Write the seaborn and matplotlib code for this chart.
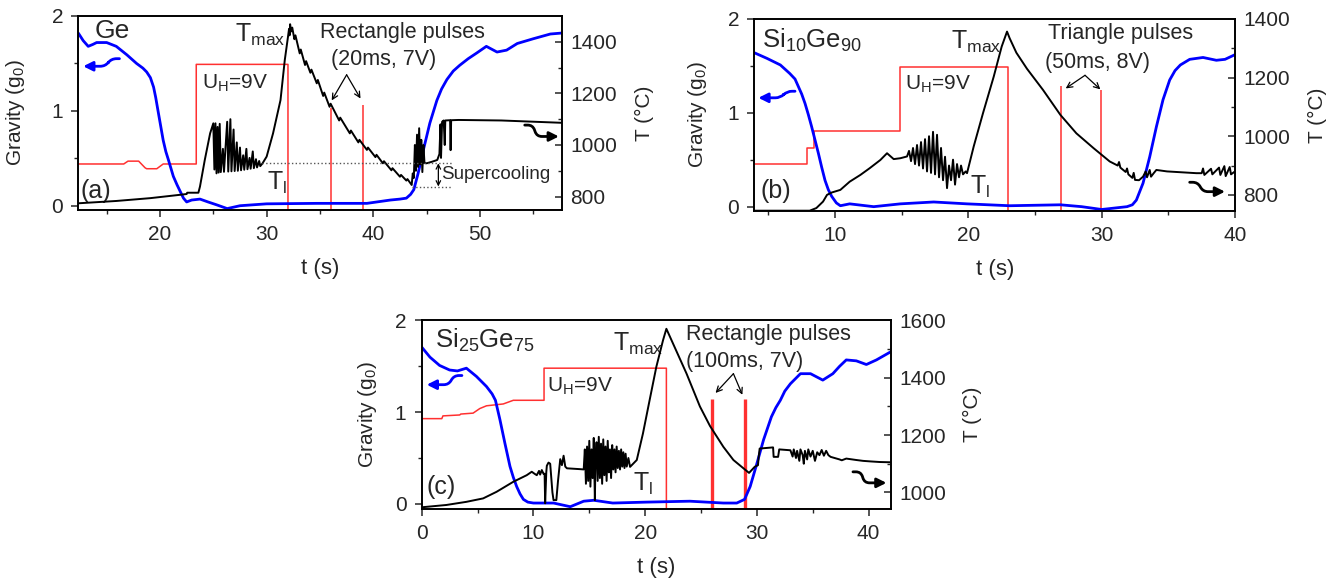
import matplotlib
matplotlib.use("Agg")
import matplotlib.pyplot as plt
import seaborn as sns

sns.set_theme(style="ticks")
plt.rcParams["font.family"] = ["Liberation Sans", "DejaVu Sans"]
plt.rcParams["mathtext.fontset"] = "custom"
plt.rcParams["mathtext.rm"] = "Liberation Sans"
plt.rcParams["mathtext.default"] = "regular"

BLUE = "#0000ff"
RED = "#ff3030"

# ---------------- (a) Ge ----------------
ge_grav_t = [12.34, 12.8, 13.27, 13.7, 14.06, 15.0, 15.9, 16.9, 17.8, 18.4, 18.75, 19.1, 19.4,
             19.6, 19.8, 20.05, 20.3, 20.55, 20.8, 21.25, 21.6, 21.9, 22.2, 22.5, 22.97, 23.75,
             24.5, 25.3, 26.3, 27.5, 30.0, 34.7, 39.4, 41.6, 42.5, 43.1, 43.5, 43.8, 44.2,
             44.7, 45.3, 45.96, 46.4, 46.9, 47.5, 48.1, 48.9, 49.7, 50.6, 51.6, 52.5, 53.5,
             55.0, 56.6, 57.66]
ge_grav = [1.82, 1.74, 1.68, 1.70, 1.72, 1.72, 1.68, 1.59, 1.50, 1.45, 1.41, 1.35, 1.25,
           1.14, 1.01, 0.85, 0.69, 0.57, 0.48, 0.31, 0.22, 0.15, 0.08, 0.04, 0.06, 0.07,
           0.04, 0.01, -0.03, 0.00, 0.02, 0.025, 0.025, 0.06, 0.07, 0.08, 0.12, 0.17, 0.34,
           0.59, 0.87, 1.11, 1.23, 1.33, 1.42, 1.48, 1.55, 1.61, 1.68, 1.62, 1.64, 1.71,
           1.76, 1.81, 1.82]

ge_temp_t = [12.34, 15.9, 19.1, 21.9, 22.5, 22.55, 23.6, 23.75, 24.2, 24.7, 25.0,
             25.1, 25.2, 25.3, 25.4, 25.5, 25.6, 25.7, 25.9, 26.0, 26.3, 26.4, 26.6, 26.7,
             26.9, 27.0, 27.2, 27.3, 27.5, 27.6, 27.8, 27.9, 28.1, 28.2, 28.4, 28.5, 28.7,
             28.8, 29.0, 29.1, 29.3, 29.4, 29.6,
             30.0, 30.6, 31.3, 31.7, 32.0, 32.1, 32.15, 32.2, 32.3, 32.4,
             32.6, 32.7, 33.1, 33.2, 33.6, 33.7, 34.1, 34.2, 34.7, 34.8, 35.3, 35.4, 35.9,
             36.0, 36.8, 36.9, 37.8, 37.9, 38.6, 38.7, 39.4, 39.5, 40.2, 40.3, 40.9, 41.0,
             41.7, 41.8, 42.5, 42.6, 43.1, 43.2, 43.6,
             43.7, 43.8, 43.9, 44.0, 44.1, 44.2, 44.3, 44.4, 44.5, 44.6, 44.7, 44.8, 45.0,
             45.5, 46.0, 46.2, 46.3, 46.35, 46.45, 46.6, 46.7, 46.75, 47.2, 47.25, 47.3,
             48.0, 52.0, 57.66]
ge_temp = [774, 783, 794, 807, 810, 815, 815, 839, 942, 1045, 1084,
           905, 1084, 890, 1070, 893, 1082, 895, 985, 896, 1090, 897, 1100, 898,
           1060, 899, 1010, 900, 990, 902, 960, 904, 985, 906, 950, 908, 975,
           910, 945, 913, 938, 918, 928,
           955, 1045, 1174, 1329, 1419, 1450, 1425, 1468, 1440, 1455,
           1410, 1425, 1355, 1370, 1310, 1325, 1280, 1292, 1239, 1252, 1190, 1203, 1148,
           1160, 1095, 1106, 1045, 1056, 1010, 1020, 981, 990, 953, 962, 929, 937,
           902, 910, 877, 884, 862, 868, 845,
           890, 872, 1000, 900, 1040, 915, 1065, 925, 1020, 895, 1000, 930, 929,
           935, 942, 965, 1080, 950, 1090, 1095, 1000, 1095, 1096, 980, 1096,
           1097, 1095, 1086]

ge_volt_t = [12.34, 16.6, 17.0, 18.0, 18.6, 18.75, 19.7, 20.3, 23.4, 23.4, 32.0, 32.0, 57.66]
ge_volt = [0.44, 0.44, 0.47, 0.47, 0.40, 0.39, 0.39, 0.44, 0.44, 1.49, 1.49, -0.045, -0.045]
ge_pulse_t = [36.0, 39.07]
ge_pulse_top = [1.03, 1.06]
ge_supercool_start = [29.6, 43.6]
ge_supercool_T = [929, 839]

# ---------------- (b) Si10Ge90 ----------------
si10_grav_t = [3.95, 4.9, 5.9, 6.6, 7.0, 7.25, 7.5, 7.75, 8.0, 8.25, 8.5, 8.75, 9.0, 9.25, 9.5,
               9.75, 10.1, 10.4, 11.1, 12.9, 14.9, 17.4, 19.9, 23.1, 26.9, 28.5, 30.0, 31.9,
               32.3, 32.6, 33.1, 33.6, 34.1, 34.6, 35.1, 35.5, 35.9, 36.6, 37.6, 38.6, 39.25,
               40.0]
si10_grav = [1.64, 1.58, 1.51, 1.42, 1.36, 1.28, 1.20, 1.10, 0.98, 0.85, 0.71, 0.57, 0.42,
             0.28, 0.18, 0.11, 0.04, 0.01, 0.03, 0.0, 0.03, 0.05, 0.03, 0.01, 0.02, 0.0,
             -0.03, 0.0, 0.02, 0.07, 0.25, 0.53, 0.85, 1.14, 1.35, 1.45, 1.51, 1.57, 1.59,
             1.56, 1.57, 1.62]

si10_temp_t = [3.95, 8.1, 8.6, 9.1, 9.4, 9.75, 10.4, 11.1, 11.9, 12.6, 13.4, 13.9, 14.4, 14.9,
               15.4, 15.55, 15.7, 15.85, 16.0, 16.15, 16.3, 16.45, 16.6, 16.75, 16.9, 17.05,
               17.2, 17.35, 17.5, 17.65, 17.8, 17.95, 18.1, 18.25, 18.4, 18.55, 18.7, 18.85,
               19.0, 19.15, 19.3, 19.45, 19.6, 19.8, 19.9,
               20.4, 21.1, 21.9, 22.5, 22.9, 23.1, 23.6, 24.4, 25.6, 26.9, 28.1, 29.4, 30.6,
               31.2, 31.3, 31.4, 31.8, 31.9, 32.0, 32.3, 32.4, 32.5, 32.8, 33.1, 33.3, 33.4,
               33.6, 33.7, 33.9, 34.1, 34.9, 37.1, 37.5, 37.6, 37.7, 38.2, 38.3, 38.8, 38.9,
               39.2, 39.3, 39.6, 39.7, 40.0]
si10_temp = [746, 746, 755, 777, 800, 808, 817, 845, 868, 891, 919, 942, 922, 925,
             931, 950, 915, 960, 905, 970, 900, 980, 890, 990, 880, 1000,
             875, 1015, 870, 1005, 860, 960, 850, 930, 823, 900, 850, 920,
             835, 905, 860, 900, 870, 880, 874,
             965, 1079, 1203, 1306, 1357, 1334, 1285, 1230, 1158, 1073, 1010, 959, 914,
             900, 912, 893, 878, 890, 870, 858, 875, 851, 850, 862, 880, 860,
             885, 862, 874, 885, 880, 874, 874, 890, 868, 889, 870, 893, 868,
             898, 864, 895, 870, 880]

si10_volt_t = [3.95, 7.9, 7.9, 8.45, 8.45, 14.9, 14.9, 23.0, 23.0, 40.0]
si10_volt = [0.46, 0.46, 0.63, 0.63, 0.81, 0.81, 1.49, 1.49, -0.046, -0.046]
si10_pulse_t = [26.95, 29.95]
si10_pulse_top = [1.29, 1.24]

# ---------------- (c) Si25Ge75 ----------------
si25_grav_t = [0, 0.74, 1.6, 2.5, 3.2, 4.0, 4.9, 5.8, 6.3, 6.6, 7.0, 7.45, 7.9, 8.2, 8.5, 8.8,
               9.1, 9.5, 10.0, 11.8, 13.3, 14.5, 15.4, 17.1, 20.1, 24.0, 27.0, 28.2, 28.9,
               29.4, 30.0, 30.6, 31.3, 31.7, 32.1, 32.5, 33.0, 33.9, 34.8, 35.9, 36.8, 37.4,
               38.0, 38.9, 39.8, 40.7, 42.0]
si25_grav = [1.71, 1.60, 1.51, 1.46, 1.45, 1.48, 1.39, 1.28, 1.20, 1.13, 0.92, 0.66, 0.41,
             0.29, 0.19, 0.11, 0.05, 0.02, 0.01, 0.01, -0.03, 0.03, 0.04, 0.01, 0.02, 0.03,
             0.01, 0.01, 0.05, 0.19, 0.44, 0.70, 0.95, 1.05, 1.13, 1.23, 1.31, 1.42, 1.42,
             1.35, 1.42, 1.50, 1.57, 1.56, 1.52, 1.57, 1.66]

si25_temp_t = [0, 2.2, 4.0, 5.5, 6.7, 8.2, 9.4, 9.85, 10.1, 10.3, 10.5, 10.6, 10.75, 10.9,
               11.0, 11.05, 11.15, 11.2, 11.35, 11.5, 11.7, 11.8, 12.05, 12.2, 12.4, 12.55,
               12.7, 12.85, 13.0, 14.2, 14.5,
               14.6, 14.7, 14.8, 14.9, 15.0, 15.1, 15.2, 15.3, 15.4, 15.5, 15.55, 15.65, 15.75,
               15.85, 15.95, 16.05, 16.15, 16.25, 16.35, 16.45, 16.55, 16.65, 16.75, 16.85,
               16.95, 17.05, 17.15, 17.25, 17.35, 17.45, 17.55, 17.65, 17.75, 17.85, 17.95,
               18.05, 18.15, 18.25, 18.35, 18.5, 18.65,
               19.25, 19.8, 20.4, 21.0, 21.6, 21.9, 22.5, 23.7, 24.9, 25.8, 27.0, 27.9, 28.8,
               29.3, 29.8, 30.1, 30.15, 30.25, 31.45, 31.5, 31.9, 32.0, 33.0,
               33.2, 33.3, 33.5, 33.6, 33.8, 33.9, 34.1, 34.2, 34.3, 34.5, 34.6, 34.8, 35.0,
               35.2, 35.4, 35.6, 35.8, 36.0, 36.2, 36.4, 36.6, 37.4, 37.6, 38.0, 38.9, 39.5,
               40.2, 41.0, 42.0]
si25_temp = [948, 956, 967, 979, 1002, 1037, 1060, 1072, 1065, 1060, 1075, 1062, 1078, 1065,
             1065, 962, 1070, 1093, 1104, 1100, 1000, 973, 973, 1040, 1116, 1095,
             1128, 1090, 1084, 1081, 1080,
             1150, 1030, 1160, 1040, 1180, 1020, 1150, 1050, 1190, 973, 1100, 1175, 1040,
             1194, 1050, 1170, 1030, 1185, 1060, 1160, 1040, 1180, 1070, 1150,
             1050, 1165, 1080, 1150, 1070, 1160, 1085, 1145, 1080, 1150, 1090,
             1140, 1085, 1135, 1090, 1120, 1089,
             1113, 1205, 1322, 1438, 1531, 1571, 1519, 1415, 1300, 1232, 1159, 1113, 1084,
             1068, 1089, 1095, 1120, 1153, 1157, 1124, 1124, 1150, 1147,
             1125, 1150, 1120, 1145, 1110, 1150, 1130, 1100, 1145, 1115, 1150, 1125, 1145,
             1110, 1140, 1130, 1148, 1128, 1145, 1130, 1124, 1115, 1112, 1118, 1113, 1110,
             1108, 1106, 1105]

si25_volt_t = [0, 1.8, 1.9, 3.4, 3.5, 4.6, 5.2, 5.8, 7.3, 8.2, 10.95, 10.95, 21.9, 21.9, 42.0]
si25_volt = [0.93, 0.93, 0.96, 0.97, 0.98, 0.99, 1.04, 1.07, 1.09, 1.13, 1.13, 1.48, 1.48,
             -0.055, -0.055]
si25_pulse_t = [25.95, 28.95]
si25_pulse_top = [1.14, 1.14]

fig = plt.figure(figsize=(13.43, 5.79), dpi=100)


def draw_panel(rect, xlim, glim, tlim, grav_t, grav, temp_t, temp, volt_t, volt,
               pulse_t, pulse_top, pulse_lw, xmajor, xminor, tmajor, tminor, lab_x, lab_x2, lab_y):
    ax = fig.add_axes(rect)
    ax2 = ax.twinx()
    sns.lineplot(x=volt_t, y=volt, ax=ax, color=RED, lw=1.1, sort=False, estimator=None)
    ax.vlines(pulse_t, glim[0], pulse_top, color=RED, lw=pulse_lw)
    sns.lineplot(x=grav_t, y=grav, ax=ax, color=BLUE, lw=2.0, sort=False, estimator=None)
    sns.lineplot(x=temp_t, y=temp, ax=ax2, color="black", lw=1.4, sort=False, estimator=None)

    ax.set_xlim(*xlim)
    ax.set_ylim(*glim)
    ax2.set_ylim(*tlim)
    ax.set_xticks(xmajor)
    ax.set_xticks(xminor, minor=True)
    ax.set_yticks([0, 1, 2])
    ax.set_yticks([0.5, 1.5], minor=True)
    ax2.set_yticks(tmajor)
    ax2.set_yticks(tminor, minor=True)

    ax.tick_params(which="major", direction="out", length=5, width=1.1, labelsize=15, pad=6)
    ax.tick_params(which="minor", direction="out", length=3, width=1.0)
    ax.tick_params(top=False, right=False, which="both")
    ax2.tick_params(axis="y", which="major", direction="in", length=5, width=1.1,
                    labelsize=15, pad=6)
    ax2.tick_params(axis="y", which="minor", direction="in", length=3, width=1.0)
    for a in (ax, ax2):
        for s in a.spines.values():
            s.set_linewidth(1.2)
            s.set_color("black")

    ax.set_ylabel("Gravity (g$_0$)", fontsize=15)
    ax.yaxis.set_label_coords(lab_x, 0.5)
    ax2.set_ylabel("T (°C)", fontsize=15)
    ax2.yaxis.set_label_coords(lab_x2, 0.5)
    ax.set_xlabel("t (s)", fontsize=16)
    ax.xaxis.set_label_coords(0.5, lab_y)
    return ax, ax2


def arrow(ax, start, end, color="black", lw=0.9, style="->", conn="arc3", scale=10):
    ax.annotate("", xy=end, xytext=start,
                arrowprops=dict(arrowstyle=style, color=color, lw=lw,
                                mutation_scale=scale, connectionstyle=conn,
                                shrinkA=0, shrinkB=0))


# ---- panel (a)
axa, axa2 = draw_panel([0.0583, 0.6373, 0.3599, 0.3351], (12.34, 57.66), (-0.045, 2.0),
                       (748, 1500), ge_grav_t, ge_grav, ge_temp_t, ge_temp, ge_volt_t, ge_volt,
                       ge_pulse_t, ge_pulse_top, 1.1, [20, 30, 40, 50], [15, 25, 35, 45, 55],
                       [800, 1000, 1200, 1400], [900, 1100, 1300], -0.106, 1.152, -0.245)
axa2.hlines(ge_supercool_T, ge_supercool_start, 47.4, color="#555555", lw=1.0, linestyles=":")
arrow(axa2, (46.1, 929), (46.1, 839), style="<->", lw=0.9, scale=8)
axa2.text(46.35, 884, "Supercooling", fontsize=13.5, ha="left", va="center")
axa.text(13.9, 1.84, "Ge", fontsize=19, ha="left", va="center")
axa.text(12.5, 0.155, "(a)", fontsize=18, ha="left", va="center")
axa.text(31.8, 1.80, "T$_{max}$", fontsize=18, ha="right", va="center")
axa.text(23.9, 1.29, "U$_H$=9V", fontsize=15, ha="left", va="center")
axa.text(30.0, 0.24, "T$_l$", fontsize=18, ha="left", va="center")
axa.text(42.75, 1.83, "Rectangle pulses", fontsize=15.5, ha="center", va="center")
axa.text(41.0, 1.54, "(20ms, 7V)", fontsize=15.5, ha="center", va="center")
arrow(axa, (37.5, 1.38), (36.1, 1.11))
arrow(axa, (37.5, 1.38), (38.8, 1.13))
arrow(axa, (16.2, 1.55), (12.8, 1.47), color=BLUE, lw=2.0, style="-|>",
      conn="arc,angleA=180,armA=8,angleB=0,armB=22,rad=5", scale=14)
arrow(axa, (54.2, 0.85), (57.4, 0.73), color="black", lw=2.0, style="-|>",
      conn="arc,angleA=0,armA=8,angleB=180,armB=22,rad=5", scale=14)

# ---- panel (b)
axb, axb2 = draw_panel([0.5617, 0.6356, 0.3579, 0.3316], (3.95, 40.0), (-0.046, 2.0),
                       (745, 1400), si10_grav_t, si10_grav, si10_temp_t, si10_temp,
                       si10_volt_t, si10_volt, si10_pulse_t, si10_pulse_top, 1.1,
                       [10, 20, 30, 40], [5, 15, 25, 35], [800, 1000, 1200, 1400],
                       [900, 1100, 1300], -0.094, 1.152, -0.25)
axb.text(4.5, 1.77, "Si$_{10}$Ge$_{90}$", fontsize=18.5, ha="left", va="center")
axb.text(4.4, 0.17, "(b)", fontsize=18, ha="left", va="center")
axb.text(22.5, 1.76, "T$_{max}$", fontsize=18, ha="right", va="center")
axb.text(15.25, 1.30, "U$_H$=9V", fontsize=15, ha="left", va="center")
axb.text(20.1, 0.21, "T$_l$", fontsize=18, ha="left", va="center")
axb.text(31.4, 1.85, "Triangle pulses", fontsize=15.5, ha="center", va="center")
axb.text(29.7, 1.54, "(50ms, 8V)", fontsize=15.5, ha="center", va="center")
arrow(axb, (28.75, 1.40), (27.3, 1.26))
arrow(axb, (28.75, 1.40), (29.9, 1.25))
arrow(axb, (7.0, 1.23), (4.25, 1.16), color=BLUE, lw=2.0, style="-|>",
      conn="arc,angleA=180,armA=8,angleB=0,armB=22,rad=5", scale=14)
arrow(axb, (36.6, 0.26), (39.25, 0.16), color="black", lw=2.0, style="-|>",
      conn="arc,angleA=0,armA=8,angleB=180,armB=22,rad=5", scale=14)

# ---- panel (c)
axc, axc2 = draw_panel([0.3140, 0.1209, 0.3494, 0.3256], (0, 42.0), (-0.055, 2.0),
                       (942, 1600), si25_grav_t, si25_grav, si25_temp_t, si25_temp,
                       si25_volt_t, si25_volt, si25_pulse_t, si25_pulse_top, 2.4,
                       [0, 10, 20, 30, 40], [5, 15, 25, 35], [1000, 1200, 1400, 1600],
                       [1100, 1300, 1500], -0.091, 1.153, -0.255)
axc.text(1.2, 1.78, "Si$_{25}$Ge$_{75}$", fontsize=18.5, ha="left", va="center")
axc.text(0.45, 0.19, "(c)", fontsize=18, ha="left", va="center")
axc.text(21.6, 1.75, "T$_{max}$", fontsize=18, ha="right", va="center")
axc.text(11.2, 1.28, "U$_H$=9V", fontsize=15, ha="left", va="center")
axc.text(18.95, 0.22, "T$_l$", fontsize=18, ha="left", va="center")
axc.text(31.0, 1.85, "Rectangle pulses", fontsize=15.5, ha="center", va="center")
axc.text(28.9, 1.55, "(100ms, 7V)", fontsize=15.5, ha="center", va="center")
arrow(axc, (27.9, 1.42), (26.3, 1.21))
arrow(axc, (27.9, 1.42), (28.7, 1.19))
arrow(axc, (3.6, 1.40), (0.45, 1.30), color=BLUE, lw=2.0, style="-|>",
      conn="arc,angleA=180,armA=8,angleB=0,armB=22,rad=5", scale=14)
arrow(axc, (38.6, 0.35), (41.6, 0.23), color="black", lw=2.0, style="-|>",
      conn="arc,angleA=0,armA=8,angleB=180,armB=22,rad=5", scale=14)

fig.savefig("out.png", dpi=100)
